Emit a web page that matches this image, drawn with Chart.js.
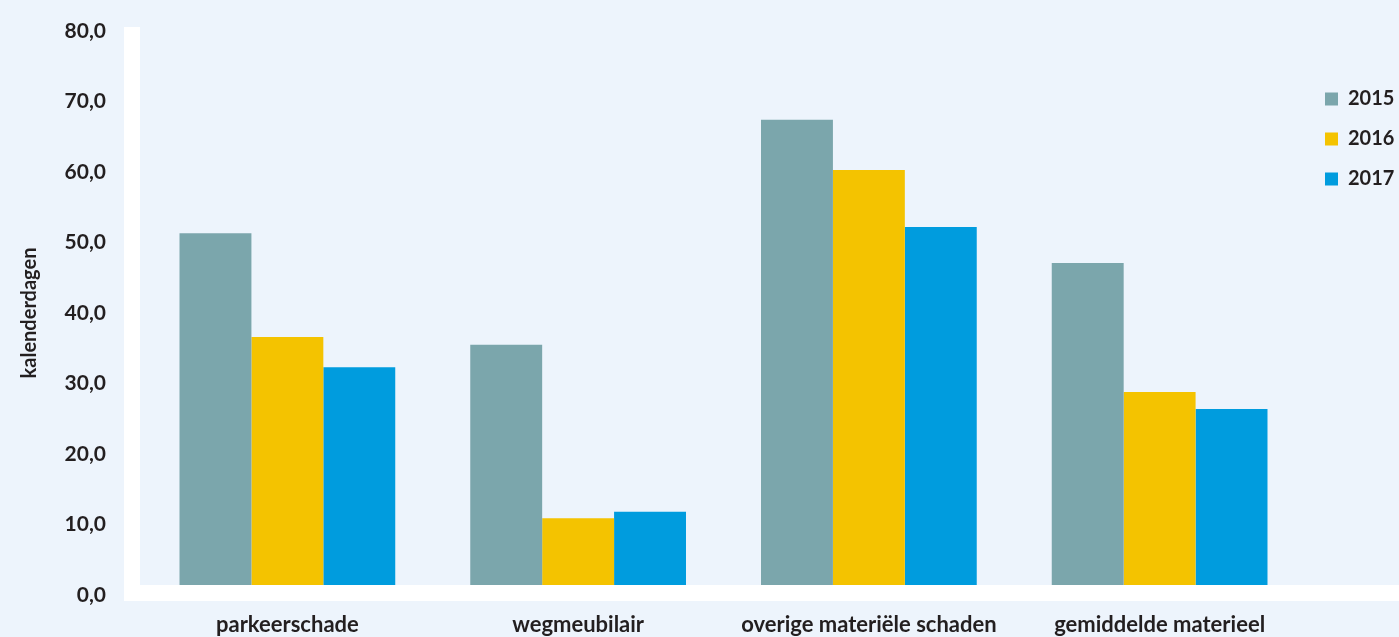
<!DOCTYPE html>
<html>
<head>
<meta charset="utf-8">
<script src="https://cdn.jsdelivr.net/npm/chart.js@4.4.1/dist/chart.umd.min.js"></script>
<style>
  html, body { margin: 0; padding: 0; background: #EDF4FC; }
  #wrap { width: 1399px; height: 637px; position: relative; }
</style>
</head>
<body>
<div id="wrap"><canvas id="chart"></canvas></div>
<script>
const categories = ['parkeerschade', 'wegmeubilair', 'overige materiële schaden', 'gemiddelde materieel'];
const years = ['2015', '2016', '2017'];
const values2015 = [51.3, 35.5, 67.4, 47.1];
const values2016 = [36.6, 10.9, 60.3, 28.8];
const values2017 = [32.3, 11.8, 52.2, 26.4];
const yTicks = [0, 10, 20, 30, 40, 50, 60, 70, 80];

const colors = ['#7BA6AC', '#F4C300', '#009CDE'];
const textColor = '#231F20';
const fontFamily = 'Lato';

// thick white axis lines like the original
const axisLines = {
  id: 'axisLines',
  afterDatasetsDraw(chart) {
    const { ctx, chartArea } = chart;
    const y0 = chart.scales.y.getPixelForValue(0);
    ctx.save();
    ctx.fillStyle = '#FFFFFF';
    ctx.fillRect(chartArea.left - 18, chartArea.top - 4, 16, y0 - chartArea.top + 10);
    ctx.fillRect(chartArea.left - 18, y0 - 10, chart.width - chartArea.left + 18, 16);
    ctx.restore();
  }
};

new Chart(document.getElementById('chart'), {
  type: 'bar',
  plugins: [axisLines],
  data: {
    labels: categories,
    datasets: [values2015, values2016, values2017].map((vals, i) => ({
      label: years[i],
      data: vals,
      backgroundColor: colors[i],
      borderWidth: 0,
      categoryPercentage: 0.742,
      barPercentage: 1
    }))
  },
  options: {
    responsive: true,
    maintainAspectRatio: false,
    animation: false,
    layout: { padding: { left: 0, top: 31, right: 0, bottom: 0 } },
    plugins: {
      tooltip: { enabled: false },
      legend: {
        position: 'right',
        align: 'start',
        maxWidth: 94,
        title: { display: true, text: '', font: { size: 10 }, padding: 13 },
        labels: {
          color: textColor,
          font: { family: fontFamily, weight: 'bold', size: 20 },
          boxWidth: 13,
          boxHeight: 13,
          padding: 20
        }
      }
    },
    scales: {
      x: {
        grid: { display: false, drawTicks: false },
        border: { display: false },
        ticks: {
          color: textColor,
          font: { family: fontFamily, weight: 'bold', size: 22 },
          padding: 17,
          maxRotation: 0
        },
        afterFit(scale) { scale.height = 42; }
      },
      y: {
        min: 0,
        max: 80,
        grid: { display: false, drawTicks: true, tickLength: 32 },
        border: { display: false },
        afterBuildTicks(scale) { scale.ticks = yTicks.map(v => ({ value: v })); },
        ticks: {
          color: textColor,
          font: { family: fontFamily, weight: 'bold', size: 21 },
          padding: 4,
          callback: v => v.toFixed(1).replace('.', ',')
        },
        title: {
          display: true,
          text: 'kalenderdagen',
          color: textColor,
          font: { family: fontFamily, weight: 'bold', size: 20 },
          padding: { top: 18, bottom: 0 }
        },
        afterFit(scale) { scale.width = 142; }
      }
    }
  }
});
</script>
</body>
</html>
